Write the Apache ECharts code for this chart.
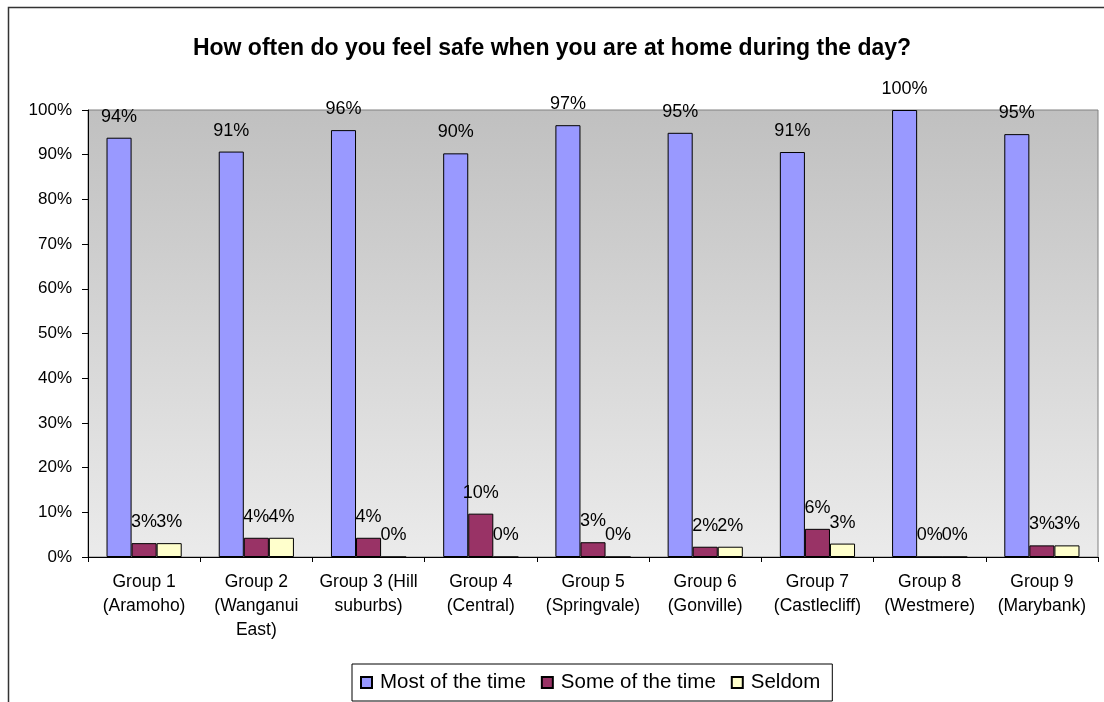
<!DOCTYPE html>
<html>
<head>
<meta charset="utf-8">
<script src="https://cdn.jsdelivr.net/npm/echarts@6/dist/echarts.min.js"></script>
<style>
  html, body { margin: 0; padding: 0; background: #ffffff; }
  #chart { width: 1104px; height: 702px; }
</style>
</head>
<body>
<div id="chart"></div>
<script>
// Survey groups (suburb in brackets), wrapped onto lines as printed on the axis
const categories = [
  'Group 1\n(Aramoho)',
  'Group 2\n(Wanganui\nEast)',
  'Group 3 (Hill\nsuburbs)',
  'Group 4\n(Central)',
  'Group 5\n(Springvale)',
  'Group 6\n(Gonville)',
  'Group 7\n(Castlecliff)',
  'Group 8\n(Westmere)',
  'Group 9\n(Marybank)'
];

// Share of respondents (%) per answer
const mostOfTheTime = [93.8, 90.7, 95.5, 90.3, 96.6, 94.9, 90.6, 100, 94.6];
const someOfTheTime = [3.1, 4.3, 4.3, 9.7, 3.3, 2.3, 6.3, 0, 2.6];
const seldom        = [3.1, 4.3, 0, 0, 0, 2.3, 3.0, 0, 2.6];

const seriesNames = ['Most of the time', 'Some of the time', 'Seldom'];
const seriesColors = ['#9999FF', '#993366', '#FFFFCC'];

const yTicks = { min: 0, max: 100, interval: 10 };

const font = 'Arial, "Liberation Sans", sans-serif';

const chart = echarts.init(document.getElementById('chart'), null, { renderer: 'canvas' });

function barSeries(name, data, color) {
  return {
    name: name,
    type: 'bar',
    data: data,
    barGap: '0%',
    barCategoryGap: '33%',
    itemStyle: { color: color, borderColor: '#000000', borderWidth: 1 },
    label: {
      show: true,
      position: 'top',
      distance: 12,
      fontFamily: font,
      fontSize: 18,
      color: '#000000',
      formatter: p => Math.round(p.value) + '%'
    },
    emphasis: { disabled: true }
  };
}

chart.setOption({
  animation: false,
  backgroundColor: '#ffffff',
  textStyle: { fontFamily: font },
  title: {
    text: 'How often do you feel safe when you are at home during the day?',
    left: 'center',
    top: 32,
    textStyle: { fontFamily: font, fontSize: 23, fontWeight: 'bold', color: '#000000' }
  },
  legend: {
    data: seriesNames,
    left: 352,
    top: 664,
    padding: [8, 12, 8, 8],
    borderColor: '#000000',
    borderWidth: 1,
    itemWidth: 11,
    itemHeight: 11,
    itemGap: 15,
    icon: 'rect',
    textStyle: { fontFamily: font, fontSize: 20.5, color: '#000000', padding: [0, 0, 0, 3] }
  },
  grid: {
    left: 88,
    right: 6,
    top: 110,
    bottom: 145,
    show: true,
    borderColor: '#808080',
    borderWidth: 1,
    backgroundColor: new echarts.graphic.LinearGradient(0, 0, 0, 1, [
      { offset: 0, color: '#C0C0C0' },
      { offset: 1, color: '#EBEBEB' }
    ])
  },
  xAxis: {
    type: 'category',
    data: categories,
    axisLine: { lineStyle: { color: '#000000', width: 1 } },
    axisTick: { show: true, length: 5, alignWithLabel: false, lineStyle: { color: '#000000' } },
    axisLabel: {
      interval: 0,
      margin: 13,
      fontFamily: font,
      fontSize: 17.5,
      lineHeight: 24,
      color: '#000000'
    },
    splitLine: { show: false }
  },
  yAxis: {
    type: 'value',
    min: yTicks.min,
    max: yTicks.max,
    interval: yTicks.interval,
    axisLine: { show: true, lineStyle: { color: '#000000', width: 1 } },
    axisTick: { show: true, length: 6, lineStyle: { color: '#000000' } },
    axisLabel: {
      formatter: '{value}%',
      margin: 16,
      fontFamily: font,
      fontSize: 17,
      color: '#000000'
    },
    splitLine: { show: false }
  },
  graphic: [
    {
      type: 'polyline',
      silent: true,
      shape: { points: [[8.5, 702], [8.5, 7.5], [1104, 7.5]] },
      style: { stroke: '#333333', lineWidth: 1.5, fill: null }
    }
  ],
  series: [
    barSeries(seriesNames[0], mostOfTheTime, seriesColors[0]),
    barSeries(seriesNames[1], someOfTheTime, seriesColors[1]),
    barSeries(seriesNames[2], seldom, seriesColors[2])
  ]
});
</script>
</body>
</html>
